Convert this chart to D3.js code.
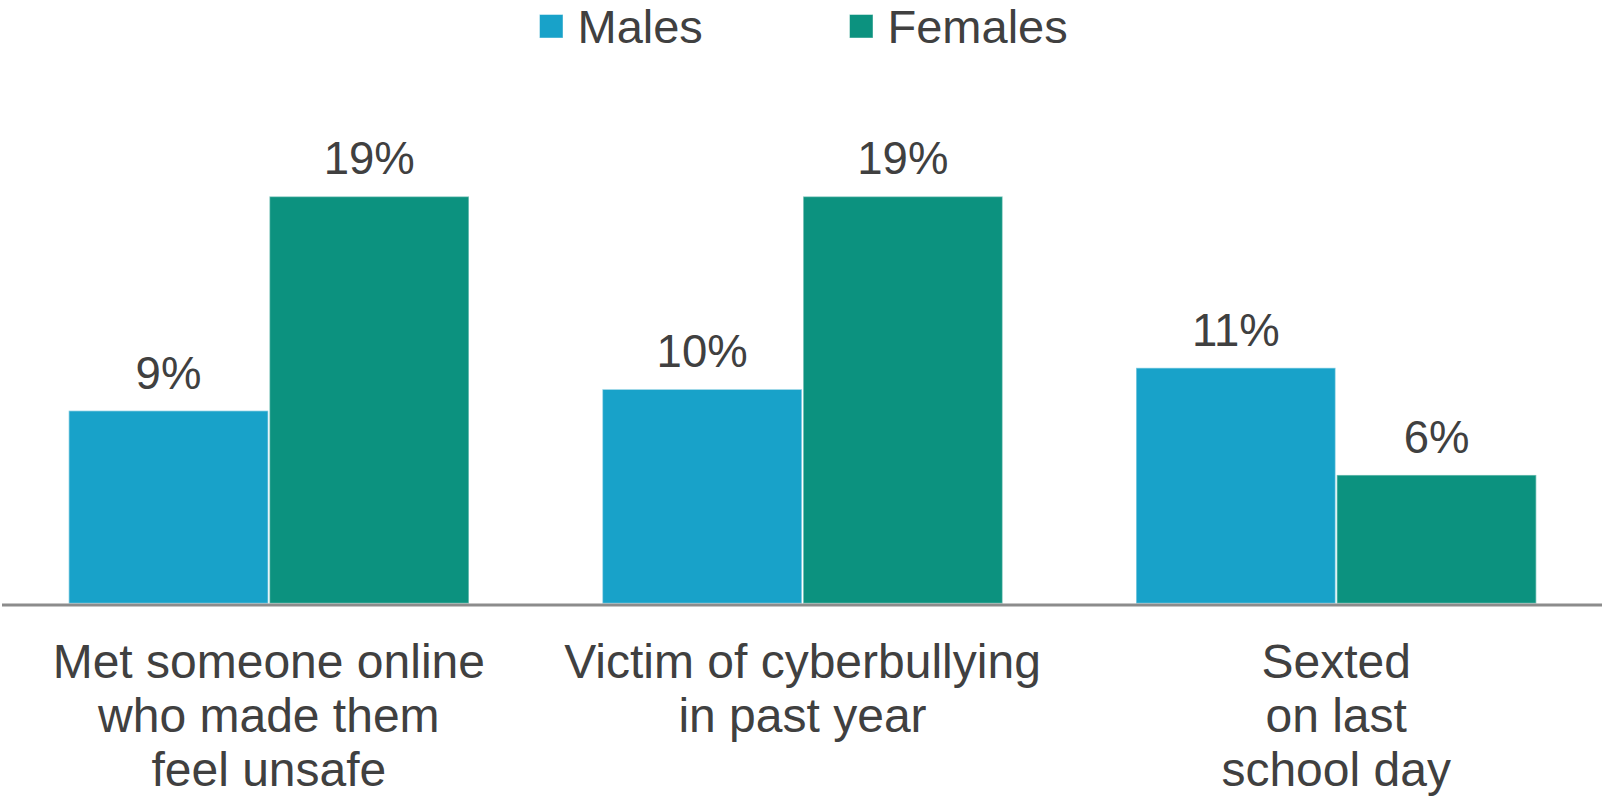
<!DOCTYPE html>
<html>
<head>
<meta charset="utf-8">
<script src="https://cdn.jsdelivr.net/npm/d3@7/dist/d3.min.js"></script>
<style>
  html, body { margin: 0; padding: 0; background: #ffffff; }
  svg { display: block; }
  text { font-family: "Liberation Sans", Arial, Helvetica, sans-serif; fill: #404040; }
</style>
</head>
<body>
<svg id="chart" width="1602" height="797"></svg>
<script>
// Grouped bar chart: online safety experiences by sex
const categories = [
  ["Met someone online", "who made them", "feel unsafe"],
  ["Victim of cyberbullying", "in past year"],
  ["Sexted", "on last", "school day"]
];
const seriesNames = ["Males", "Females"];
const malesValues = [9, 10, 11];
const femalesValues = [19, 19, 6];
const seriesColors = ["#18a2c9", "#0c927f"];

const width = 1602, height = 797;
const baseline = 603.5;

const svg = d3.select("#chart");

const groupKeys = categories.map((c, i) => i);
const x0 = d3.scaleBand()
  .domain(groupKeys)
  .range([2, 1603])
  .paddingInner(0.25)
  .paddingOuter(0.125);

const x1 = d3.scaleBand()
  .domain(seriesNames)
  .range([0, x0.bandwidth()])
  .paddingInner(0.006);

const y = d3.scaleLinear()
  .domain([0, 20])
  .range([baseline, baseline - 428.5]);

const color = d3.scaleOrdinal().domain(seriesNames).range(seriesColors);

const rows = groupKeys.map(i => ({
  key: i,
  values: [
    { series: "Males", value: malesValues[i] },
    { series: "Females", value: femalesValues[i] }
  ]
}));

const groups = svg.append("g").selectAll("g")
  .data(rows)
  .join("g")
  .attr("transform", d => `translate(${x0(d.key)},0)`);

groups.selectAll("rect")
  .data(d => d.values)
  .join("rect")
  .attr("x", d => x1(d.series))
  .attr("y", d => y(d.value))
  .attr("width", x1.bandwidth())
  .attr("height", d => baseline - y(d.value))
  .attr("fill", d => color(d.series))
  .attr("stroke", "rgba(255,255,255,0.45)")
  .attr("stroke-width", 1.5);

groups.selectAll("text.value")
  .data(d => d.values)
  .join("text")
  .attr("class", "value")
  .attr("x", d => x1(d.series) + x1.bandwidth() / 2)
  .attr("y", d => y(d.value) - 22)
  .attr("text-anchor", "middle")
  .style("font-size", "45.5px")
  .text(d => d.value + "%");

// baseline axis
svg.append("line")
  .attr("x1", 2)
  .attr("x2", 1602)
  .attr("y1", baseline + 1.5)
  .attr("y2", baseline + 1.5)
  .attr("stroke", "#8c8c8c")
  .attr("stroke-width", 3.2);

// category labels
const catLabels = svg.append("g").selectAll("text")
  .data(groupKeys)
  .join("text")
  .attr("x", i => x0(i) + x0.bandwidth() / 2)
  .attr("y", 677.5)
  .attr("text-anchor", "middle")
  .style("font-size", "48px");

catLabels.selectAll("tspan")
  .data(i => categories[i])
  .join("tspan")
  .attr("x", function() { return d3.select(this.parentNode).attr("x"); })
  .attr("dy", (d, j) => j === 0 ? 0 : 54)
  .text(d => d);

// legend
const legendX = [539.5, 849.5];
const legend = svg.append("g").selectAll("g")
  .data(seriesNames)
  .join("g")
  .attr("transform", (d, i) => `translate(${legendX[i]},0)`);

legend.append("rect")
  .attr("x", 0)
  .attr("y", 14.5)
  .attr("width", 23.5)
  .attr("height", 23.5)
  .attr("fill", d => color(d))
  .attr("stroke", "rgba(255,255,255,0.45)")
  .attr("stroke-width", 1);

legend.append("text")
  .attr("x", 38)
  .attr("y", 42.5)
  .style("font-size", "47px")
  .text(d => d);
</script>
</body>
</html>
